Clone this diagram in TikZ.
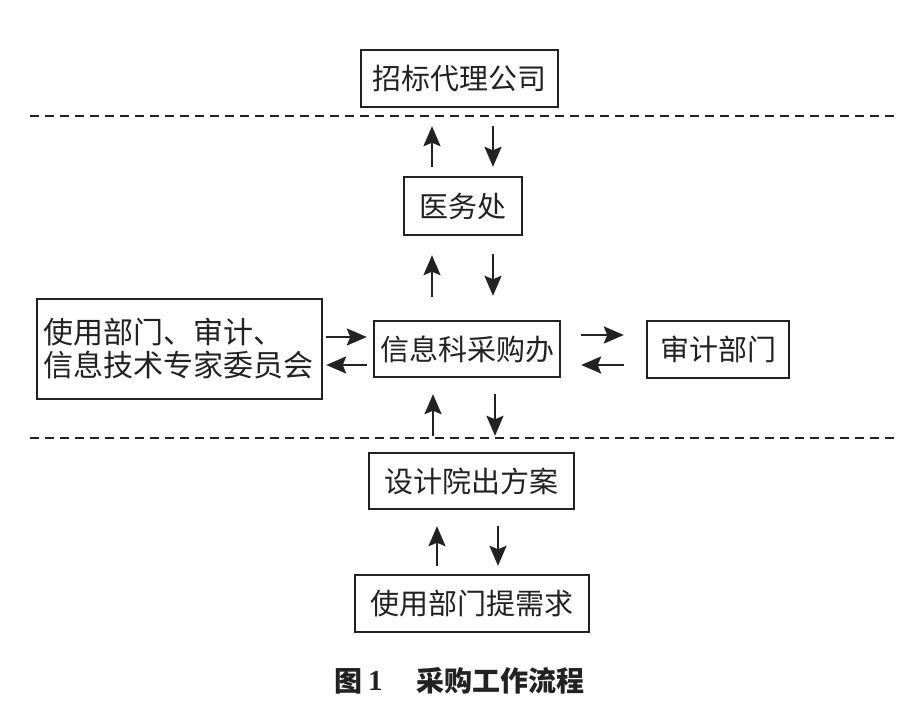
\documentclass[tikz,border=0pt]{standalone}
\usepackage{fontspec}
\newfontfamily\cjk{Noto Sans CJK SC}
\newfontfamily\serb{Liberation Serif}
\usetikzlibrary{arrows.meta,calc}
\definecolor{ink}{HTML}{222222}
\begin{document}
\begin{tikzpicture}[x=1pt,y=-1pt,
  box/.style={draw=ink, line width=2.4pt, inner sep=0pt, text=ink,
    font=\cjk\fontsize{29}{33}\selectfont},
  arr/.style={draw=ink, line width=2.3pt, -{Stealth[length=20pt,width=17pt,inset=3.5pt]}},
  sepline/.style={draw=ink, line width=2pt, dash pattern=on 9pt off 6pt},
  captext/.style={inner sep=0pt, text=ink, anchor=west}]
\useasboundingbox[fill=white] (0,0) rectangle (924,720);

% separators
\coordinate (d1a) at (30,116);  \coordinate (d1b) at (896,116);
\coordinate (d2a) at (30,438);  \coordinate (d2b) at (896,438);
\draw[sepline] (d1a) -- (d1b);
\draw[sepline] (d2a) -- (d2b);

% boxes
\node[box, minimum width=197pt, minimum height=57pt] (zb) at (459.5,78.5) {招标代理公司};
\node[box, minimum width=118pt, minimum height=58pt] (yw) at (463,206) {医务处};
\node[box, minimum width=186pt, minimum height=56pt] (xx) at (467,349) {信息科采购办};
\node[box, minimum width=142pt, minimum height=57pt] (sj) at (718,349.5) {审计部门};
\node[box, minimum width=285pt, minimum height=100pt, text width=272pt, align=left,
      font=\cjk\fontsize{30}{33}\selectfont] (lf) at (179.5,349) {使用部门、审计、\\信息技术专家委员会};
\node[box, minimum width=205pt, minimum height=56pt] (sy) at (471.5,481) {设计院出方案};
\node[box, minimum width=234pt, minimum height=57pt] (xq) at (472,603.5) {使用部门提需求};

% vertical arrows
\draw[arr] ($(yw.north)+(-31,-9)$) -- ($(zb.south)+(-27.5,18)$);
\draw[arr] ($(zb.south)+(33.5,18)$) -- ($(yw.north)+(30,-9)$);
\draw[arr] ($(xx.north)+(-35,-23)$) -- ($(yw.south)+(-31,19)$);
\draw[arr] ($(yw.south)+(30,18)$) -- ($(xx.north)+(26,-24)$);
\draw[arr] ($(sy.north)+(-38.5,-16)$) -- ($(xx.south)+(-34,16)$);
\draw[arr] ($(xx.south)+(28,16)$) -- ($(sy.north)+(23.5,-16)$);
\draw[arr] ($(xq.north)+(-35,-8)$) -- ($(sy.south)+(-34.5,16)$);
\draw[arr] ($(sy.south)+(26.5,16)$) -- ($(xq.north)+(26,-8)$);

% horizontal arrows
\draw[arr] ($(lf.east)+(3,-12)$) -- ($(xx.west)+(-6,-12)$);
\draw[arr] ($(xx.west)+(-6,16)$) -- ($(lf.east)+(3,16)$);
\draw[arr] ($(xx.east)+(20,-14)$) -- ($(sj.west)+(-22,-14.5)$);
\draw[arr] ($(sj.west)+(-22,15.5)$) -- ($(xx.east)+(20,16)$);

% caption
\node[captext, font=\cjk\bfseries\fontsize{28}{30}\selectfont] (c1) at (334,681) {图};
\node[captext, font=\serb\bfseries\fontsize{29}{30}\selectfont] (c2) at (368,681) {1};
\node[captext, font=\cjk\bfseries\fontsize{28}{30}\selectfont] (c3) at (416,681) {采购工作流程};
\end{tikzpicture}
\end{document}
